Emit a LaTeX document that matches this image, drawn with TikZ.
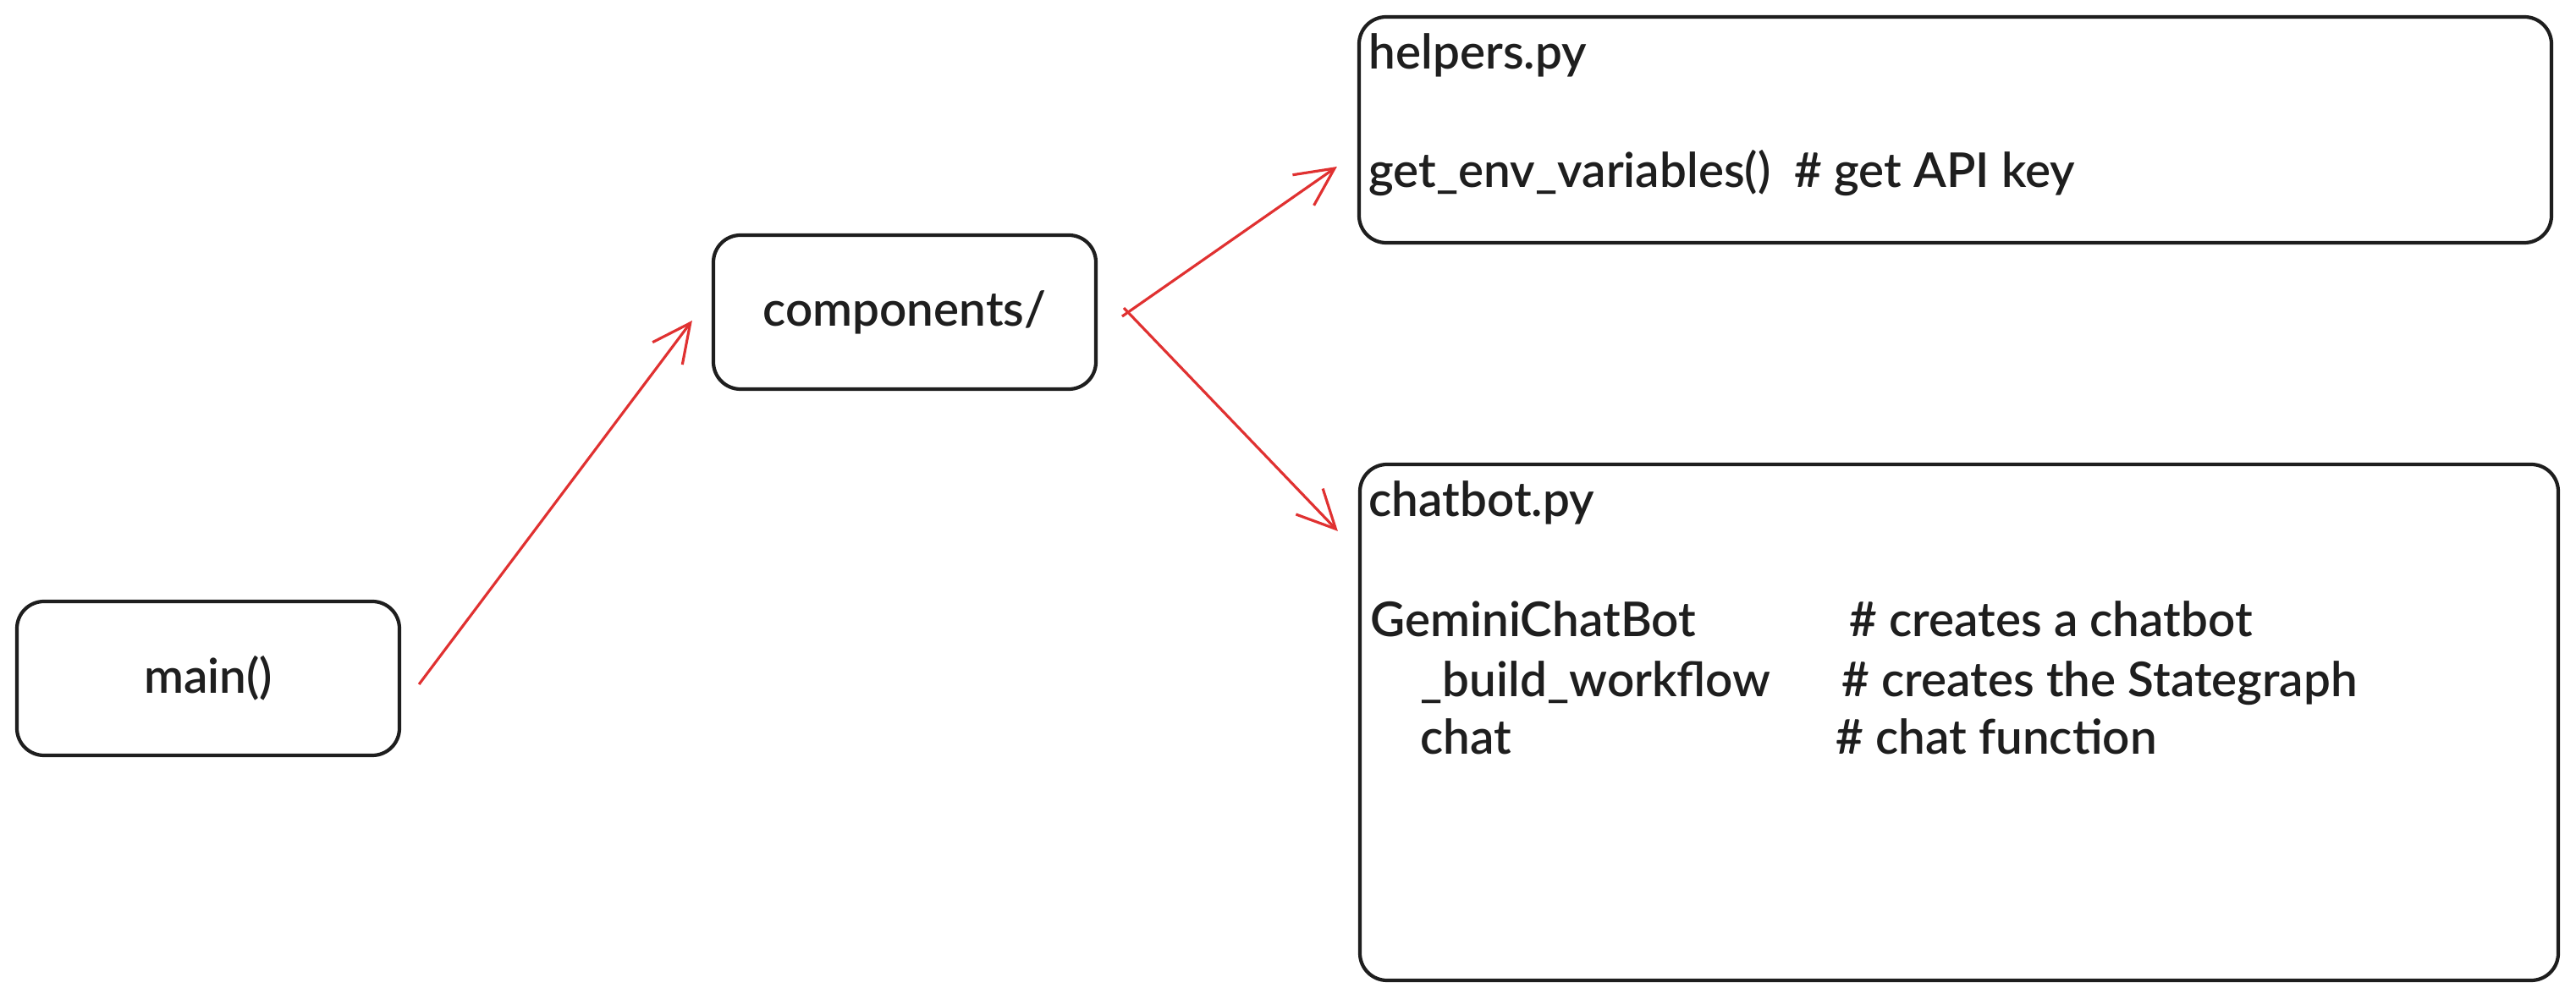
\documentclass[tikz,border=0pt]{standalone}
\usepackage{fontspec}
\setmainfont{Lato}[UprightFont=* Semibold]
\usetikzlibrary{arrows.meta,positioning}
\definecolor{inkred}{RGB}{224,49,49}
\definecolor{inkblack}{RGB}{30,30,30}

\begin{document}
\begin{tikzpicture}[scale=1,
        box/.style={draw=inkblack, line width=1.2pt, rounded corners=0.32cm, inner sep=0pt, text=inkblack, font=\fontsize{16.1}{19.5}\selectfont},
        code/.style={anchor=base west, inner sep=0pt, text=inkblack, font=\fontsize{16.1}{19.5}\selectfont},
        redarrow/.style={draw=inkred, line width=0.9pt, -{Straight Barb[length=4.5mm,width=4.4mm]}}]
        \useasboundingbox (0,0) rectangle (30.44,11.8);
        % boxes
        \node[box, minimum width=4.52cm, minimum height=1.82cm] (mainbox) at (2.46,3.78) {main()};
        \node[box, minimum width=4.52cm, minimum height=1.82cm] (compbox) at (10.69,8.11) {components/};
        \node[box, minimum width=14.09cm, minimum height=2.67cm] (helpersbox) at (23.105,10.265) {};
        \node[box, minimum width=14.16cm, minimum height=6.10cm] (chatbox) at (23.15,3.26) {};
        % helpers.py
        \node[code] (helpersname) at (16.17,10.98) {helpers.py};
        \node[code] (envline) at (16.17,9.58) {get\_env\_variables()\ \ \# get API key};
        % chatbot.py
        \node[code] (chatname) at (16.17,5.69) {chatbot.py};
        \node[code] (botclass) at (16.19,4.27) {GeminiChatBot};
        \node[code] (botbuild) at (16.78,3.56) {\_build\_workflow};
        \node[code] (botchat) at (16.78,2.88) {chat};
        \node[code] (cmtclass) at (21.85,4.27) {\# creates a chatbot};
        \node[code] (cmtbuild) at (21.76,3.56) {\# creates the Stategraph};
        \node[code] (cmtchat) at (21.69,2.88) {\# chat function};
        % arrows
        \coordinate (fork) at (13.33,8.11);
        \draw[redarrow] ([shift={(0.21,-0.07)}]mainbox.east) -- ([shift={(-0.23,-0.10)}]compbox.west);
        \draw[redarrow] ([shift={(-0.07,-0.05)}]fork) -- ([shift={(-0.24,-0.435)}]helpersbox.west);
        \draw[redarrow] ([shift={(-0.05,0.05)}]fork) -- ([shift={(-0.24,-0.81)}]chatbox.north west);
\end{tikzpicture}
\end{document}
